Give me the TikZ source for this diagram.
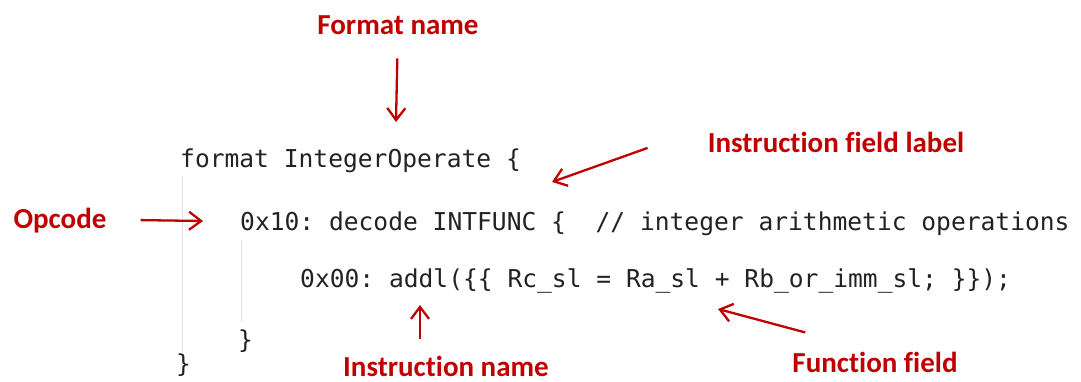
\documentclass[tikz,border=0pt]{standalone}
\usepackage{fontspec}
\setmainfont[Ligatures=NoCommon]{Carlito}
\setmonofont{DejaVu Sans Mono}
\usetikzlibrary{arrows.meta, positioning}
\definecolor{labelRed}{HTML}{C00000}
\definecolor{codeGray}{HTML}{222222}

\begin{document}
\begin{tikzpicture}[x=1pt,y=-1pt]
	\tikzstyle{Label} = [text=labelRed, font=\fontsize{29}{34}\selectfont\bfseries, inner sep=0pt, anchor=base]
	\tikzstyle{Code} = [text=codeGray, font=\fontsize{24.6}{30}\selectfont\ttfamily, inner sep=0pt, anchor=base west]
	\tikzstyle{arrow} = [line width=2.3pt, draw=labelRed, ->, >={Straight Barb[length=12pt,width=18pt]}]
	\tikzstyle{guide} = [line width=0.9pt, draw=black!12]
	
	\useasboundingbox (0,0) rectangle (1081,382);
	
	% code
	\node (formatLine) [Code] at (180,168) {format IntegerOperate \{};
	\node (decodeLine) [Code] at (240,230) {0x10: decode INTFUNC \{~~// integer arithmetic operations};
	\node (addlLine) [Code] at (300,287) {0x00: addl(\{\{ Rc\_sl = Ra\_sl + Rb\_or\_imm\_sl; \}\});};
	\node (innerClose) [Code] at (238,348) {\}};
	\node (outerClose) [Code] at (176,372) {\}};
	
	\draw[guide] (182,176) -- (182,354);
	\draw[guide] (241,240) -- (241,322);
	
	% labels
	\node (formatName) [Label] at (398,35) {Format name};
	\node (fieldLabel) [Label] at (836,153) {Instruction field label};
	\node (opcode) [Label] at (60,228) {Opcode};
	\node (instrName) [Label] at (446,376) {Instruction name};
	\node (funcField) [Label] at (875,372) {Function field};
	
	\coordinate (formatTip) at (396,122);
	\coordinate (opcodeTip) at (203,221);
	\coordinate (fieldTip) at (552,182);
	\coordinate (instrTip) at (420,305);
	\coordinate (funcTip) at (718,309);
	
	\draw[arrow, shorten <=23pt] (formatName) -- (formatTip);
	\draw[arrow] ([xshift=34pt]opcode.east) -- (opcodeTip);
	\draw[arrow] ([xshift=-60pt,yshift=-5pt]fieldLabel.west) -- (fieldTip);
	\draw[arrow] ([xshift=-26pt,yshift=16pt]instrName.north) -- (instrTip);
	\draw[arrow] ([xshift=13pt,yshift=19pt]funcField.north west) -- (funcTip);
\end{tikzpicture}
\end{document}
